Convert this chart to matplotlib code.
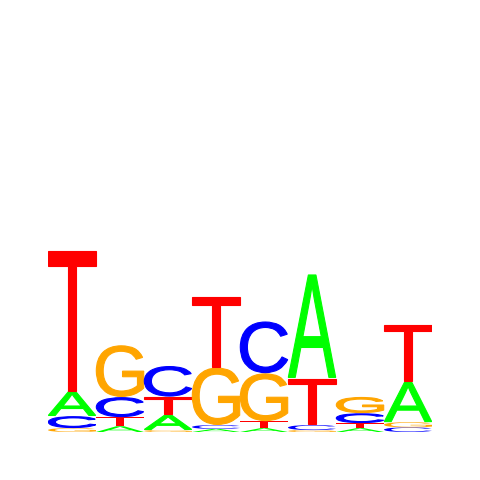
import matplotlib
matplotlib.use("Agg")
import matplotlib.pyplot as plt
from matplotlib.textpath import TextPath
from matplotlib.patches import PathPatch
from matplotlib.font_manager import FontProperties
from matplotlib.transforms import Affine2D

# information content (bits) per position
positions = [1, 2, 3, 4, 5, 6, 7, 8]
A = [0.13, 0.03, 0.08, 0.016, 0.02, 0.54, 0.02, 0.21]
C = [0.063, 0.105, 0.16, 0.02, 0.27, 0.026, 0.052, 0.024]
G = [0.02, 0.27, 0.01, 0.30, 0.25, 0.01, 0.085, 0.027]
T = [0.735, 0.047, 0.094, 0.37, 0.036, 0.245, 0.026, 0.30]

colors = {"A": "#00ff00", "C": "#0000ff", "G": "#ffa500", "T": "#ff0000"}
font = FontProperties(family="Liberation Sans", weight="normal")


def draw_letter(ax, letter, x, y, w, h):
    tp = TextPath((0, 0), letter, size=1, prop=font)
    ext = tp.get_extents()
    if h > 0.05:
        # thicken big letters a little, keep the stroke inside the box
        pad, lw = 0.6 / 192.0, 0.8
    else:
        pad, lw = 0.0, 0.0
    tr = (Affine2D()
          .translate(-ext.x0, -ext.y0)
          .scale((w - 2 * pad * 2) / ext.width, (h - 2 * pad) / ext.height)
          .translate(x + 2 * pad, y + pad))
    ax.add_patch(PathPatch(tr.transform_path(tp), fc=colors[letter],
                           ec=colors[letter] if lw else "none", lw=lw))


fig = plt.figure(figsize=(4.8, 4.8), dpi=100)
ax = fig.add_axes([0.1, 0.1, 0.8, 0.8])

letters = {"A": A, "C": C, "G": G, "T": T}
for i, pos in enumerate(positions):
    stack = sorted(((letters[k][i], k) for k in letters))
    y = 0
    for h, k in stack:
        draw_letter(ax, k, pos - 1, y, 1.0, h)
        y += h

ax.set_xlim(0, len(positions))
ax.set_ylim(0, 2)
ax.axis("off")

fig.savefig("out.png", dpi=100)
